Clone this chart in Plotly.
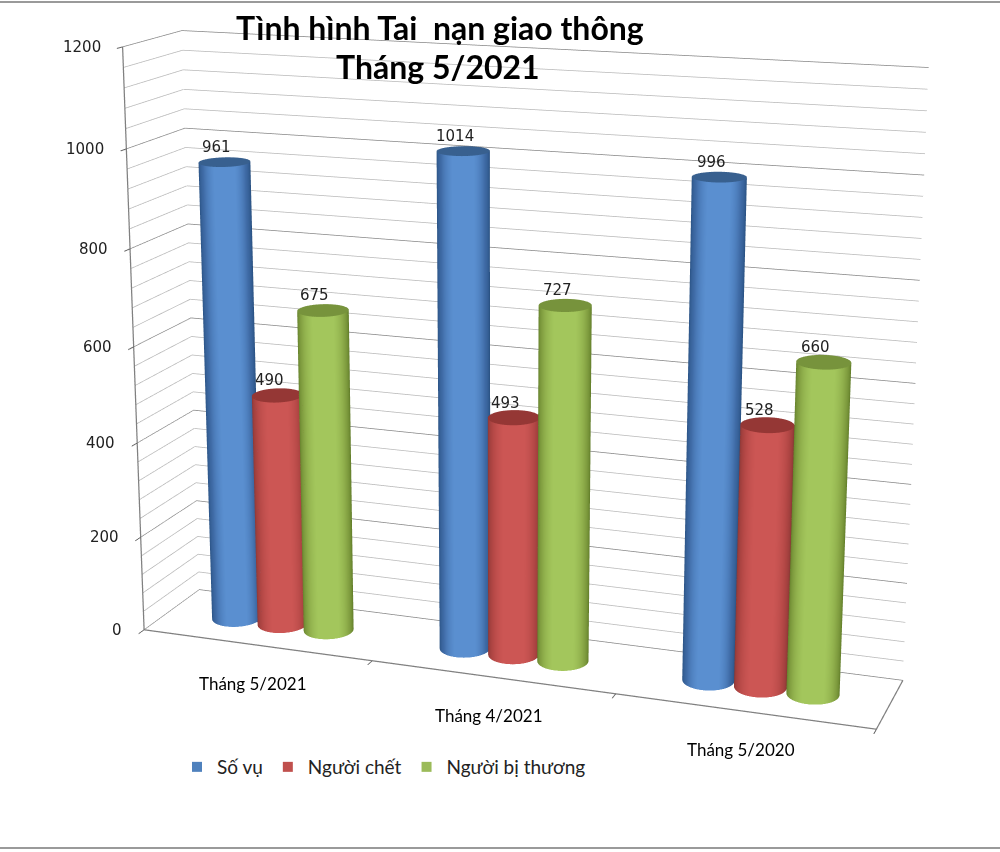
import numpy as np
import plotly.graph_objects as go

categories = ["Tháng 5/2021", "Tháng 4/2021", "Tháng 5/2020"]
so_vu = [961, 1014, 996]
nguoi_chet = [490, 493, 528]
nguoi_bi_thuong = [675, 727, 660]
series_names = ["Số vụ", "Người chết", "Người bị thương"]
major_ticks = [0, 200, 400, 600, 800, 1000, 1200]
minor_ticks = [40, 80, 120, 160, 240, 280, 320, 360, 440, 480, 520, 560, 640, 680, 720, 760,
               840, 880, 920, 960, 1040, 1080, 1120, 1160]

# The scene is taller than the window so that its long lens matches the reference's flat perspective.
H = 2110; PY = 336; TOP = H/2-PY
def py(y): return 1-(y+TOP)/H

EYE = (1.3234, -3.7546, 1.0677); CENTER = (-0.1197, 0.2663, -0.0267); ASPECT = (1.2656, 0.2119, 1)
X_RANGE = [0, 3]; Y_RANGE = [0, 1]; Z_RANGE = [0, 1200]
group_centers = [0.5, 1.5, 2.5]
offsets = [-0.205, 0, 0.205]
RX, RY = 0.1, 0.21
YC = 0.5
palette = [("#234a78", "#3f6ba6", "#5a8fd0", "#38608f"),
           ("#7f3230", "#b04644", "#cc5654", "#953735"),
           ("#587322", "#86a444", "#a3c65c", "#77933c")]
legend_colors = ["#4f81bd", "#c0504d", "#9bbb59"]
LIGHT = dict(ambient=1, diffuse=0, specular=0, roughness=1, fresnel=0)
fig = go.Figure()
th = np.linspace(0, 2*np.pi, 145)
sx = ASPECT[0]/(X_RANGE[1]-X_RANGE[0]); sy = ASPECT[1]/(Y_RANGE[1]-Y_RANGE[0])
for s, vals in enumerate([so_vu, nguoi_chet, nguoi_bi_thuong]):
    dark, mid, light, top = palette[s]
    for c, v in enumerate(vals):
        xc = group_centers[c]+offsets[s]
        x = xc+RX*np.cos(th); y = YC+RY*np.sin(th)
        view = np.arctan2(EYE[1]-(YC-0.5)*sy, EYE[0]-(xc-1.5)*sx)
        phi = np.arctan2(RY*sy*np.sin(th), RX*sx*np.cos(th))
        shade = np.clip(np.cos(phi-view), 0, 1)
        fig.add_trace(go.Surface(x=np.vstack([x, x]), y=np.vstack([y, y]), z=np.vstack([0*x, 0*x+v]),
            surfacecolor=np.vstack([shade, shade]), cmin=0, cmax=1,
            colorscale=[[0, dark], [0.6, mid], [0.92, light], [1, light]], showscale=False, lighting=LIGHT, hoverinfo="skip"))
        xt = np.vstack([0*x+xc, x]); yt = np.vstack([0*y+YC, y]); zt = np.full_like(xt, v, dtype=float)
        fig.add_trace(go.Surface(x=xt, y=yt, z=zt, surfacecolor=np.zeros_like(xt), cmin=0, cmax=1,
            colorscale=[[0, top], [1, top]], showscale=False, lighting=LIGHT, hoverinfo="skip"))
    fig.add_trace(go.Scatter3d(x=[None], y=[None], z=[None], mode="markers", name=series_names[s],
        marker=dict(symbol="square", size=10, color=legend_colors[s])))

gx, gy, gz = [], [], []
for v in minor_ticks:
    gx += [X_RANGE[0], X_RANGE[0], X_RANGE[1], None]
    gy += [Y_RANGE[0], Y_RANGE[1], Y_RANGE[1], None]
    gz += [v, v, v, None]
fig.add_trace(go.Scatter3d(x=gx, y=gy, z=gz, mode="lines", line=dict(color="#b8b8b8", width=1.5),
    showlegend=False, hoverinfo="skip"))
# darker frame: front-left upright plus the front and right floor edges
fig.add_trace(go.Scatter3d(
    x=[X_RANGE[0], X_RANGE[0], X_RANGE[1], X_RANGE[1]],
    y=[Y_RANGE[0], Y_RANGE[0], Y_RANGE[0], Y_RANGE[1]],
    z=[Z_RANGE[1], Z_RANGE[0], Z_RANGE[0], Z_RANGE[0]],
    mode="lines", line=dict(color="#808080", width=2.5), showlegend=False, hoverinfo="skip"))

anns = []
for c, name in enumerate(categories):
    anns.append(dict(x=group_centers[c], y=Y_RANGE[0], z=0, text=name, showarrow=False, yshift=-38, xshift=-3,
                     font=dict(family="Lato", size=17, color="#000")))
for s, vals in enumerate([so_vu, nguoi_chet, nguoi_bi_thuong]):
    for c, v in enumerate(vals):
        anns.append(dict(x=group_centers[c]+offsets[s], y=YC, z=v, text=str(v), showarrow=False, yshift=15, xshift=-8,
                         font=dict(family="DejaVu Sans", size=15, color="#222")))
for v in major_ticks:
    anns.append(dict(x=X_RANGE[0], y=Y_RANGE[0], z=v, text=str(v), showarrow=False, xanchor="right", xshift=-20,
                     font=dict(family="DejaVu Sans", size=15, color="#222")))

hidden = dict(showgrid=False, zeroline=False, showbackground=False, title="")
fig.update_layout(
    width=1000, height=H, margin=dict(l=0, r=0, t=0, b=0), paper_bgcolor="white",
    scene=dict(
        domain=dict(x=[0, 1], y=[0, 1]),
        xaxis=dict(range=X_RANGE, tickvals=[0, 1, 2, 3], ticktext=["", "", "", ""], showline=False,
                   ticks="outside", ticklen=8, tickcolor="#606060", tickwidth=2, **hidden),
        yaxis=dict(range=Y_RANGE, tickvals=[], showline=False, **hidden),
        zaxis=dict(range=Z_RANGE, tickvals=major_ticks, ticktext=[""]*len(major_ticks), showgrid=True,
                   gridcolor="#858585", gridwidth=1.5, zeroline=False, showbackground=False, title="",
                   showline=False, ticks="outside", ticklen=24, tickwidth=2, tickcolor="#606060"),
        aspectmode="manual", aspectratio=dict(x=ASPECT[0], y=ASPECT[1], z=ASPECT[2]),
        camera=dict(eye=dict(x=EYE[0], y=EYE[1], z=EYE[2]),
                    center=dict(x=CENTER[0], y=CENTER[1], z=CENTER[2]), up=dict(x=0, y=0, z=1)),
        annotations=anns,
    ),
    legend=dict(orientation="h", x=0.177, y=py(767), xanchor="left", yanchor="middle", itemwidth=30,
                font=dict(family="Lato", size=19, color="#222")),
    annotations=[
        dict(x=0.44, y=py(27), xref="paper", yref="paper", yanchor="middle", showarrow=False, text="<b>Tình hình Tai  nạn giao thông</b>",
             font=dict(family="Lato", size=32, color="black")),
        dict(x=0.438, y=py(67), xref="paper", yref="paper", yanchor="middle", showarrow=False, text="<b>Tháng 5/2021</b>",
             font=dict(family="Lato", size=32, color="black")),
    ],
    shapes=[
        dict(type="line", xref="paper", yref="paper", x0=0, x1=1, y0=py(848), y1=py(848), line=dict(color="#9a9a9a", width=2)),
        dict(type="line", xref="paper", yref="paper", x0=0, x1=1, y0=py(2), y1=py(2), line=dict(color="#9a9a9a", width=2)),
    ],
)
js = f"""
document.documentElement.style.overflow='hidden';
document.documentElement.style.height='852px';
document.body.style.margin='0';document.body.style.overflow='hidden';document.body.style.height='852px';
document.querySelector('.plotly-graph-div').style.marginTop='{-TOP}px';
"""
fig.write_html("out.html", post_script=js, config=dict(displayModeBar=False))
